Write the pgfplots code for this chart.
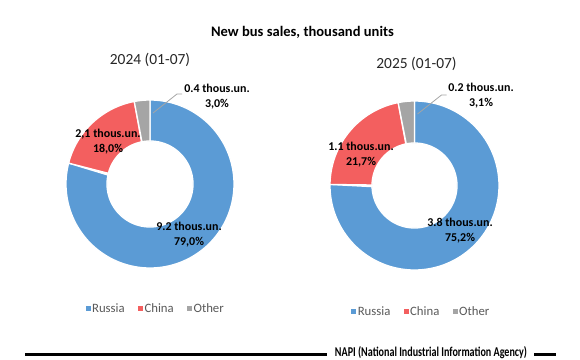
\documentclass[border=0pt]{standalone}
\usepackage{fontspec}
\setmainfont{Carlito}
\newfontfamily\footfont[FakeStretch=0.75]{Carlito}
\usepackage{pgfplots}
\usepackage{pgfplotstable}
\pgfplotsset{compat=1.18}
\definecolor{cRus}{HTML}{5B9BD5}
\definecolor{cChi}{HTML}{F35F5F}
\definecolor{cOth}{HTML}{A5A5A5}
\definecolor{legtext}{HTML}{595959}
\definecolor{subt}{HTML}{262626}

% 2024 (01-07): value (thous. units), share (%)
\pgfplotstableread{
label value pct
Russia 9.2 79.0
China 2.1 18.0
Other 0.4 3.0
}\salesA
% 2025 (01-07)
\pgfplotstableread{
label value pct
Russia 3.8 75.2
China 1.1 21.7
Other 0.2 3.1
}\salesB

% cumulative angles (clockwise from 12 o'clock)
\pgfplotstablegetelem{0}{pct}\of\salesA \pgfmathsetmacro\aAi{90-3.6*\pgfplotsretval}
\pgfplotstablegetelem{1}{pct}\of\salesA \pgfmathsetmacro\aAii{\aAi-3.6*\pgfplotsretval}
\pgfplotstablegetelem{2}{pct}\of\salesA \pgfmathsetmacro\aAiii{\aAii-3.6*\pgfplotsretval}
\pgfplotstablegetelem{0}{pct}\of\salesB \pgfmathsetmacro\aBi{90-3.6*\pgfplotsretval}
\pgfplotstablegetelem{1}{pct}\of\salesB \pgfmathsetmacro\aBii{\aBi-3.6*\pgfplotsretval}
\pgfplotstablegetelem{2}{pct}\of\salesB \pgfmathsetmacro\aBiii{\aBii-3.6*\pgfplotsretval}

% ring slice: cx, cy, r_out, r_in, start angle, end angle, colour
\newcommand{\ringslice}[7]{%
  \addplot[fill=#7, draw=white, line width=1.3bp, line join=round, domain=0:2, samples=241, variable=\t]
   ({#1+((\t<=1)?(#3):(#4))*cos((\t<=1)?((#5)+((#6)-(#5))*\t):((#6)-((#6)-(#5))*(\t-1)))},
    {#2-((\t<=1)?(#3):(#4))*sin((\t<=1)?((#5)+((#6)-(#5))*\t):((#6)-((#6)-(#5))*(\t-1)))}) -- cycle;
}

\pgfplotsset{
  donut/.style={
    width=290bp, height=360bp, scale only axis,
    ymin=0, ymax=360, y dir=reverse,
    hide axis, clip=false,
    legend columns=3,
    legend image code/.code={\path[##1, draw=none] (0bp,-2.6bp) rectangle (5.2bp,2.6bp);},
    legend style={draw=none, fill=none, anchor=center,
      font=\fontsize{12.8}{14}\selectfont, text=legtext,
      nodes={inner sep=0.3bp},
      /tikz/every odd column/.append style={column sep=1bp},
      /tikz/every even column/.append style={column sep=13bp}},
  },
}
\tikzset{lab/.style={font=\bfseries\fontsize{12}{15}\selectfont, align=center, inner sep=0pt, text=black}}

\begin{document}
\begin{tikzpicture}
\useasboundingbox (0,0) rectangle (580bp,360bp);
% ---------- 2024 ----------
\begin{axis}[donut, at={(0,0)}, anchor=south west, xmin=0, xmax=290,
  legend style={at={(0.534,0.142)}}]
  \ringslice{150}{184}{84}{43}{90}{\aAi}{cRus}
  \ringslice{150}{184}{84}{43}{\aAi}{\aAii}{cChi}
  \ringslice{150}{184}{84}{43}{\aAii}{\aAiii}{cOth}
  \legend{Russia, China, Other}
  \draw[cOth, line width=0.8bp] (axis cs:153,113) -- (axis cs:177,94) -- (axis cs:182,94);
  \node[lab] at (axis cs:108,142) {2,1 thous.un.\\18,0\%};
  \node[lab] at (axis cs:189,234.5) {9.2 thous.un.\\79,0\%};
  \node[lab] at (axis cs:217,96.5) {0.4 thous.un.\\3,0\%};
  \node[font=\bfseries\fontsize{14.6}{18}\selectfont] at (axis cs:302.5,32) {New bus sales, thousand units};
  \node[font=\fontsize{15.5}{18}\selectfont, text=subt] at (axis cs:150,60) {2024 (01-07)};
  % footer
  \draw[black, line width=3bp] (axis cs:25,354) -- (axis cs:327,354);
  \draw[black, line width=3bp] (axis cs:534,354) -- (axis cs:556,354);
  \node[font=\footfont\bfseries\fontsize{13.5}{15}\selectfont, text=black] at (axis cs:431,353) {NAPI (National Industrial Information Agency)};
\end{axis}
% ---------- 2025 ----------
\begin{axis}[donut, at={(290bp,0)}, anchor=south west, xmin=290, xmax=580,
  legend style={at={(0.450,0.135)}}]
  \ringslice{414.5}{185.5}{84.5}{42.5}{90}{\aBi}{cRus}
  \ringslice{414.5}{185.5}{84.5}{42.5}{\aBi}{\aBii}{cChi}
  \ringslice{414.5}{185.5}{84.5}{42.5}{\aBii}{\aBiii}{cOth}
  \legend{Russia, China, Other}
  \draw[cOth, line width=0.8bp] (axis cs:417.5,114) -- (axis cs:441.5,95) -- (axis cs:446.5,95);
  \node[lab] at (axis cs:361,154.5) {1.1 thous.un.\\21,7\%};
  \node[lab] at (axis cs:460,231) {3.8 thous.un.\\75,2\%};
  \node[lab] at (axis cs:481,96) {0.2 thous.un.\\3,1\%};
  \node[font=\fontsize{15.5}{18}\selectfont, text=subt] at (axis cs:416.5,64) {2025 (01-07)};
\end{axis}
\end{tikzpicture}
\end{document}
